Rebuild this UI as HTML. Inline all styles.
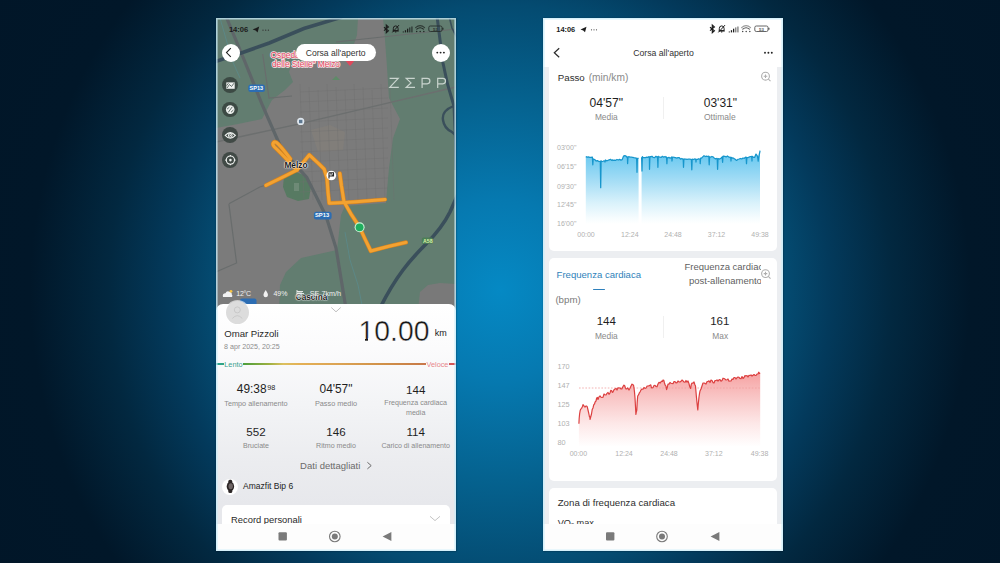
<!DOCTYPE html>
<html><head><meta charset="utf-8">
<style>
*{margin:0;padding:0;box-sizing:border-box}
html,body{width:1000px;height:563px;overflow:hidden}
body{font-family:"Liberation Sans",sans-serif;position:relative;background:#011a2e}
#bg{position:absolute;left:0;top:0;width:1000px;height:563px;
background:radial-gradient(circle at 500px 290px,#0589c4 0px,#0679b0 90px,#05628f 190px,#044b71 285px,#033a5c 330px,#022840 392px,#011729 470px,#011628 600px);}
.ph{position:absolute;top:18px;width:240px;height:533px;overflow:hidden;background:#fff;box-shadow:0 0 1.5px 0.5px rgba(0,10,20,.55)}
.in{position:absolute;width:1000px;height:563px}
#L{left:216px} #L .in{left:-216px;top:-18px}
#R{left:543px} #R .in{left:-543px;top:-18px}
.t{position:absolute;white-space:nowrap;line-height:1}
.a{position:absolute}
svg{position:absolute;left:0;top:0;overflow:visible}
.edge{position:absolute;left:0;top:0;width:240px;height:533px;box-shadow:inset 0 0 0 1.6px rgba(200,236,250,.75)}
</style></head><body>
<div id="bg"></div>
<div class="ph" id="L"><div class="in">
<svg width="1000" height="563" viewBox="0 0 1000 563">
<rect x="216" y="18" width="240" height="290" fill="#627d70"/>
<polygon points="358.0,18.0 383.0,18.0 385.0,40.0 386.7,63.0 389.0,98.0 400.0,119.0 393.0,138.0 389.0,168.0 387.0,190.0 386.0,203.0 345.0,206.0 341.0,215.0 337.0,250.0 301.0,258.0 286.0,272.0 280.0,285.0 279.0,310.0 216.0,310.0 216.0,128.0 238.0,124.0 262.0,119.0 272.0,100.0 285.0,90.0 293.0,82.0 289.0,72.0 292.0,64.0 310.0,61.0 340.0,58.0 352.0,50.0 357.0,35.0" fill="#7b7b7b"/>
<polygon points="311,130 330,125 345,132 343,150 318,152" fill="#85807a" opacity="0.6"/>
<polygon points="420.0,292.0 428.0,285.0 440.0,283.0 456.0,284.0 456.0,310.0 418.0,310.0" fill="#797979"/>
<polygon points="284.0,176.0 296.0,172.0 306.0,176.0 311.0,186.0 309.0,199.0 298.0,201.0 287.0,197.0 283.0,187.0" fill="#577a62"/>
<rect x="294" y="183" width="5" height="8" fill="#6e8a76"/>
<path d="M300,84 L304,200 M309,87 L313,200 M318,90 L322,200 M327,84 L331,200 M336,87 L340,200 M345,90 L349,200 M354,84 L358,200 M363,87 L367,200 M372,90 L376,200 M381,84 L385,200 M390,87 L394,200 M300,92 L388,88 M300,102 L388,98 M300,112 L388,108 M300,122 L388,118 M300,132 L388,128 M300,142 L388,138 M300,152 L388,148 M300,162 L388,158 M300,172 L388,168 M300,182 L388,178 M300,192 L388,188" stroke="#6e6e6e" stroke-width="0.7" fill="none" opacity="0.55"/>
<path d="M216,142 L296,124.6 L375.8,105.9 L456,87" stroke="#6c6f6f" stroke-width="1.4" fill="none"/>
<path d="M336,42 L456,29 M228.9,203.8 L259.8,187 L266,185 M228.9,203.8 L236.6,263 L216,272 M262.7,54 L269,98 L292,96" stroke="#696d6d" stroke-width="1.2" fill="none"/>
<path d="M226.7,18 L245,62 L262.7,106 L282,150 L306.8,177.5 L326,216 L336,248 L345.4,305" stroke="#5f6669" stroke-width="3.2" fill="none"/>
<path d="M220,18 L232,60 L240,78 M345,232 L350,260 L358,285 L362,305" stroke="#5a8a8c" stroke-width="0.8" fill="none"/>
<path d="M214,62 L242.6,52.5 L269.3,43 L303.9,28.5 L342,17" stroke="#3a4f5b" stroke-width="3.6" fill="none"/>
<path d="M437,16 L440,40 L443,63 L447.5,84 L451,96 L454,106 L455.5,140 L456,170" stroke="#3a4f5b" stroke-width="3" fill="none"/>
<path d="M449,16 L452,28 L458,40" stroke="#3a4f5b" stroke-width="1.6" fill="none"/>
<path d="M453.6,106 C446,109 442,114 443,120 C444,127 448,130 451.4,131.6 C453,133 455,135 457,136" stroke="#3a4f5b" stroke-width="2.4" fill="none"/>
<path d="M380,308 C386,296 394,282 403,270 C412,258 418,252 426,244 C436,234 444,224 450,212 L458,194" stroke="#3a4f5b" stroke-width="3.6" fill="none"/>
<polyline points="265.9,185.4 281.0,178.0 297.2,169.8 309.3,154.9 318.0,163.0 324.2,169.1 327.0,178.0 328.0,192.0 329.2,203.2 345.0,202.5 356.0,201.8 372.0,200.5 385.0,199.5" stroke="#d3821f" stroke-width="4.2" fill="none" stroke-linejoin="round" stroke-linecap="round"/>
<polyline points="339.8,173.4 341.5,186.0 344.0,201.8 351.0,214.0 359.5,227.0 365.0,239.0 370.8,251.0 388.0,246.5 406.0,242.4" stroke="#d3821f" stroke-width="4.2" fill="none" stroke-linejoin="round" stroke-linecap="round"/>
<path d="M297,170 C291,164 283,155 274.5,147 C271.5,144 273.5,141 276.5,142.5 C280,145 286,153 290.5,159" stroke="#d3821f" stroke-width="4.2" fill="none" stroke-linecap="round"/>
<polyline points="265.9,185.4 281.0,178.0 297.2,169.8 309.3,154.9 318.0,163.0 324.2,169.1 327.0,178.0 328.0,192.0 329.2,203.2 345.0,202.5 356.0,201.8 372.0,200.5 385.0,199.5" stroke="#f3a231" stroke-width="3.0" fill="none" stroke-linejoin="round" stroke-linecap="round"/>
<polyline points="339.8,173.4 341.5,186.0 344.0,201.8 351.0,214.0 359.5,227.0 365.0,239.0 370.8,251.0 388.0,246.5 406.0,242.4" stroke="#f3a231" stroke-width="3.0" fill="none" stroke-linejoin="round" stroke-linecap="round"/>
<path d="M297,170 C291,164 283,155 274.5,147 C271.5,144 273.5,141 276.5,142.5 C280,145 286,153 290.5,159" stroke="#f3a231" stroke-width="3.0" fill="none" stroke-linecap="round"/>
<circle cx="331.3" cy="175.5" r="4.8" fill="#fff"/>
<path d="M329,172.5 L329,178.5 M329,172.8 L333.5,172.8 L333.5,176 L329,176" stroke="#222" stroke-width="1.1" fill="none"/><rect x="330.3" y="173.2" width="1.5" height="1.3" fill="#222"/><rect x="331.8" y="174.5" width="1.5" height="1.3" fill="#222"/>
<circle cx="359.6" cy="227.3" r="5" fill="#c9f3d6"/><circle cx="359.6" cy="227.3" r="3.9" fill="#1fae5e"/>
<rect x="313.9" y="211.7" width="17.7" height="7.8" rx="2.5" fill="#2c6db3"/>
<rect x="248.3" y="84.6" width="16.7" height="7.5" rx="2.5" fill="#2c6db3"/>
<rect x="421.8" y="237.6" width="11" height="6.2" rx="1.5" fill="#4d7f56"/>
<rect x="240" y="298.5" width="16.5" height="7" rx="2" fill="#2c6db3"/>
<path d="M345,58 a5,5 0 0 1 10,0 q0,3 -5,8 q-5,-5 -5,-8z" fill="#e0485c"/>
<circle cx="300.7" cy="121.4" r="3.6" fill="#dfe7ee"/><rect x="299" y="119.8" width="3.4" height="3.4" fill="#5d7891"/>
<path d="M332,80 l4,-4 l4,4z" fill="#5f8a68"/>
</svg>
<svg width="1000" height="563"><g font-family="Liberation Sans" font-size="8.3" fill="#df4760" stroke="#fbe9ec" stroke-width="1.5" paint-order="stroke" stroke-linejoin="round"><text x="270.6" y="57.8">Ospedale</text><text x="272" y="67.4">delle Stelle&quot; Melzo</text></g></svg>
<div class="t" style="left:284.40px;top:161.29px;font-size:8.4px;color:#1a1a1a;font-weight:700;text-shadow:0 0 1.5px #fff,0 0 1.5px #fff,0 0 1px #fff">Melzo</div>
<div class="t" style="left:295.80px;top:293.56px;font-size:8.2px;color:#1a1a1a;font-weight:700;text-shadow:0 0 1.5px #fff,0 0 1.5px #fff,0 0 1px #fff">Cascina</div>
<div class="t" style="left:315.00px;top:213.29px;font-size:5.8px;color:#fff;font-weight:700;">SP13</div>
<div class="t" style="left:249.50px;top:86.26px;font-size:5.6px;color:#fff;font-weight:700;">SP13</div>
<div class="t" style="left:423.00px;top:238.60px;font-size:5.2px;color:#d9f2a6;font-weight:700;">A58</div>
<svg width="1000" height="563"><g fill="none" stroke="#c9d4ce" stroke-width="1.2"><path d="M389.6,78.4 H398.2 L389.8,87.3 H398.8"/><path d="M414.8,78.4 H406.2 L411,82.9 L406.2,87.3 H415"/><path d="M422.1,88 V78.4 H427.2 A2.7,2.7 0 0 1 427.2,83.8 H422.1"/><path d="M437.7,88 V78.4 H442.8 A2.7,2.7 0 0 1 442.8,83.8 H437.7"/></g></svg>
<div class="t" style="left:228.90px;top:25.67px;font-size:7.6px;color:#1c1c1c;font-weight:700;">14:06</div>
<svg width="1000" height="563"><path d="M252.6,29.6 L259.2,26.6 L257.6,32.4 L255.6,30.6 Z" fill="#1c1c1c"/><circle cx="263" cy="30.2" r="0.65" fill="#333"/><circle cx="265.7" cy="30.2" r="0.65" fill="#333"/><circle cx="268.4" cy="30.2" r="0.65" fill="#333"/></svg>
<svg width="1000" height="563"><path d="M384.00,27.3 L388.40,30.8 L386.30,32.7 V25.1 L388.40,27.0 L384.00,30.6" fill="none" stroke="#1c1c1c" stroke-width="1.15"/><path d="M393.30,30.6 V28.6 Q393.30,25.9 395.70,25.9 Q398.10,25.9 398.10,28.6 V30.6 Z" fill="none" stroke="#1c1c1c" stroke-width="1"/><path d="M392.60,31.0 H398.80 M399.00,25.1 L392.40,32.4" fill="none" stroke="#1c1c1c" stroke-width="1"/><circle cx="395.70" cy="31.9" r="0.7" fill="#1c1c1c"/><rect x="402.70" y="31.50" width="1.25" height="0.9" fill="#1c1c1c"/><rect x="404.85" y="30.20" width="1.25" height="2.2" fill="#1c1c1c"/><rect x="407.00" y="28.70" width="1.25" height="3.7" fill="#1c1c1c"/><rect x="409.15" y="27.40" width="1.25" height="5.0" fill="#2a332f"/><rect x="411.30" y="26.50" width="1.25" height="5.9" fill="#2a332f"/><g fill="none" stroke-linecap="round"><path d="M415.60,27.6 Q420.10,23.6 424.60,27.6" stroke="#2f3a35" stroke-width="1.1"/><path d="M416.80,29.2 Q420.10,26.4 423.40,29.2" stroke="#1f2622" stroke-width="1.1"/></g><circle cx="416.70" cy="31.6" r="0.75" fill="#1f2622"/><circle cx="420.20" cy="31.6" r="0.75" fill="#1f2622"/><circle cx="423.80" cy="31.6" r="0.75" fill="#1f2622"/><rect x="428.80" y="26.0" width="13.2" height="5.5" rx="1.5" fill="none" stroke="#27302c" stroke-width="0.9"/><rect x="442.20" y="27.8" width="1.3" height="1.9" fill="#27302c"/><text x="435.40" y="30.6" font-size="4.3" font-weight="700" text-anchor="middle" fill="#27302c" font-family="Liberation Sans">53</text></svg>
<div class="a" style="left:221.7px;top:43.7px;width:18px;height:18px;border-radius:50%;background:#fff"></div><svg width="1000" height="563"><path d="M230.8,48.2 L226.5,52.6 L230.8,56.9" stroke="#222" stroke-width="1.1" fill="none"/></svg>
<div class="a" style="left:431.6px;top:43.6px;width:18px;height:18px;border-radius:50%;background:#fff"></div><svg width="1000" height="563"><circle cx="437.3" cy="52.6" r="0.95" fill="#222"/><circle cx="440.6" cy="52.6" r="0.95" fill="#222"/><circle cx="443.9" cy="52.6" r="0.95" fill="#222"/></svg>
<div class="a" style="left:296px;top:43.8px;width:79.5px;height:17.6px;border-radius:9px;background:#fff"></div><div class="t" style="left:305.70px;top:48.92px;font-size:8.6px;color:#333;font-weight:400;">Corsa all&#39;aperto</div>
<div class="a" style="left:222.4px;top:77.4px;width:15.8px;height:15.8px;border-radius:50%;background:rgba(52,64,58,.82)"></div><div class="a" style="left:222.4px;top:101.7px;width:15.8px;height:15.8px;border-radius:50%;background:rgba(52,64,58,.82)"></div><div class="a" style="left:222.4px;top:127.4px;width:15.8px;height:15.8px;border-radius:50%;background:rgba(52,64,58,.82)"></div><div class="a" style="left:222.4px;top:152.2px;width:15.8px;height:15.8px;border-radius:50%;background:rgba(52,64,58,.82)"></div><svg width="1000" height="563"><rect x="226.3" y="82.4" width="8.4" height="6.4" fill="#eef1ef"/><path d="M227,88 L229.5,84.5 L231.5,86.5 L234,83.2 M228.5,83.2 L226.6,85.6" stroke="#55625c" stroke-width="0.9" fill="none"/><circle cx="230.2" cy="109.6" r="4.3" fill="#eef1ef"/><path d="M228.2,112.4 L232.3,106.8 M227,109.2 L229.4,107.2 M231,112.2 L233.4,110" stroke="#55625c" stroke-width="0.9" fill="none"/><g fill="none" stroke="#eef1ef" stroke-width="1.1"><path d="M225.2,135.4 Q230.3,129.8 235.4,135.4 Q230.3,141 225.2,135.4 Z"/><circle cx="230.3" cy="135.4" r="1.8"/></g><circle cx="230.3" cy="135.4" r="0.7" fill="#eef1ef"/><g fill="none" stroke="#eef1ef" stroke-width="1.1"><circle cx="230.4" cy="160.1" r="4.1"/><path d="M230.4,155 V156.3 M230.4,163.9 V165.2 M225.3,160.1 H226.6 M234.2,160.1 H235.5"/></g><circle cx="230.4" cy="160.1" r="1.3" fill="#eef1ef"/></svg>
<svg width="1000" height="563"><path d="M223,297 Q222,293.5 225.5,293.3 Q226.5,290.5 229.5,291.7 Q232,292 231.8,294.5 Q233,295.5 232,297 Z" fill="#f2f2f2"/><circle cx="231" cy="291.3" r="1.4" fill="#f6c444"/><path d="M265.7,290 Q263.3,293.5 263.4,295 Q263.6,297.2 265.7,297.2 Q267.8,297.2 268,295 Q268.1,293.5 265.7,290Z" fill="#f2f2f2"/><path d="M297,290 L297,297 M299,291 L299,297 M301,292 L301,297 M297,291.5 L303,291.5 M297,293.5 L304,293.5" stroke="#f0f0f0" stroke-width="0.9"/></svg>
<div class="t" style="left:236.30px;top:289.67px;font-size:7.0px;color:#f0f0f0;font-weight:400;letter-spacing:-0.3px">12°C</div>
<div class="t" style="left:273.40px;top:289.67px;font-size:7.0px;color:#f0f0f0;font-weight:400;">49%</div>
<div class="t" style="left:309.80px;top:289.51px;font-size:7.2px;color:#f0f0f0;font-weight:400;">SE 7km/h</div>
<div class="a" style="left:216px;top:304px;width:240px;height:250px;border-radius:7px 7px 0 0;background:linear-gradient(180deg,#ffffff 0px,#fbfbfc 45px,#f3f4f6 100px,#ebecef 160px,#e7e8ec 200px)"></div><div class="a" style="left:225.5px;top:300.6px;width:23.6px;height:23.6px;border-radius:50%;background:#dcdcdc;box-shadow:0 0 0 1px rgba(255,255,255,.6)"></div><svg width="1000" height="563"><g fill="none" stroke="#c6c6c6" stroke-width="0.9"><circle cx="237.3" cy="309.9" r="3"/><path d="M232.3,318.5 Q237.3,312.8 242.3,318.5"/></g></svg>
<svg width="1000" height="563"><path d="M331.3,307.5 L336,311.8 L340.7,307.5" stroke="#bfbfbf" stroke-width="1" fill="none"/></svg>
<div class="t" style="left:224.20px;top:328.67px;font-size:9.6px;color:#2a2a2a;font-weight:400;">Omar Pizzoli</div>
<div class="t" style="left:224.10px;top:343.59px;font-size:7.1px;color:#8c8c8c;font-weight:400;">8 apr 2025, 20:25</div>
<div class="t" style="left:358.60px;top:316.54px;font-size:28.3px;color:#151515;font-weight:400;transform:scaleY(1.07);transform-origin:0 85%;-webkit-text-stroke:0.4px #fdfdfd;">10.00</div>
<div class="t" style="left:434.80px;top:329.18px;font-size:9.0px;color:#1a1a1a;font-weight:400;">km</div>
<div class="a" style="left:360.2px;top:337.9px;width:5.3px;height:3.6px;background:#fcfcfd"></div><div class="a" style="left:368.1px;top:337.9px;width:5.9px;height:3.6px;background:#fcfcfd"></div><div class="a" style="left:216px;top:363.4px;width:240px;height:1.6px;background:linear-gradient(90deg,#2aa390 0%,#30a585 3%,#4f9f3c 12%,#9cb040 22%,#dcc060 28%,#e4b055 35%,#dca454 50%,#d09048 70%,#c87c48 85%,#cc6a55 92%,#d85258 100%)"></div><div class="t" style="left:223.80px;top:361.42px;font-size:7.3px;color:#3aa08f;font-weight:400;background:#f9fafa;padding:0 0.5px">Lento</div>
<div class="t" style="left:426.00px;top:361.42px;font-size:7.3px;color:#e8868c;font-weight:400;background:#f9fafa;padding:0 0.5px">Veloce</div>
<div class="t" style="left:236.80px;top:383.73px;font-size:11.9px;color:#1e1e1e;font-weight:400;">49:38</div>
<div class="t" style="left:267.30px;top:384.12px;font-size:7.3px;color:#1e1e1e;font-weight:400;">98</div>
<div class="t" style="left:186.00px;width:300px;text-align:center;top:383.73px;font-size:11.9px;color:#1e1e1e;font-weight:400;">04&#39;57&quot;</div>
<div class="t" style="left:265.70px;width:300px;text-align:center;top:383.98px;font-size:11.6px;color:#1e1e1e;font-weight:400;">144</div>
<div class="t" style="left:106.00px;width:300px;text-align:center;top:400.26px;font-size:7.25px;color:#8a8a8a;font-weight:400;">Tempo allenamento</div>
<div class="t" style="left:186.00px;width:300px;text-align:center;top:400.22px;font-size:7.3px;color:#8a8a8a;font-weight:400;">Passo medio</div>
<div class="t" style="left:265.70px;width:300px;text-align:center;top:400.39px;font-size:7.1px;color:#8a8a8a;font-weight:400;">Frequenza cardiaca</div>
<div class="t" style="left:265.70px;width:300px;text-align:center;top:409.59px;font-size:7.1px;color:#8a8a8a;font-weight:400;">media</div>
<div class="t" style="left:106.00px;width:300px;text-align:center;top:426.18px;font-size:11.6px;color:#1e1e1e;font-weight:400;">552</div>
<div class="t" style="left:186.00px;width:300px;text-align:center;top:426.18px;font-size:11.6px;color:#1e1e1e;font-weight:400;">146</div>
<div class="t" style="left:265.70px;width:300px;text-align:center;top:426.18px;font-size:11.6px;color:#1e1e1e;font-weight:400;">114</div>
<div class="t" style="left:106.00px;width:300px;text-align:center;top:442.79px;font-size:7.1px;color:#8a8a8a;font-weight:400;">Bruciate</div>
<div class="t" style="left:186.00px;width:300px;text-align:center;top:442.79px;font-size:7.1px;color:#8a8a8a;font-weight:400;">Ritmo medio</div>
<div class="t" style="left:265.70px;width:300px;text-align:center;top:442.79px;font-size:7.1px;color:#8a8a8a;font-weight:400;">Carico di allenamento</div>
<div class="t" style="left:300.10px;top:460.56px;font-size:9.5px;color:#6a6a6a;font-weight:400;">Dati dettagliati</div>
<svg width="1000" height="563"><path d="M367.4,462.3 L371.2,465.6 L367.4,468.9" stroke="#6a6a6a" stroke-width="1" fill="none"/></svg>
<div class="a" style="left:222.2px;top:478.7px;width:16px;height:16px;border-radius:50%;background:#fff"></div><svg width="1000" height="563"><rect x="228.3" y="479.8" width="4" height="13.2" rx="1.6" fill="#2e2828"/><ellipse cx="230.4" cy="486.5" rx="3.7" ry="4.6" fill="#2b2525"/><ellipse cx="230.7" cy="486.3" rx="2.2" ry="3" fill="#6e6565"/></svg>
<div class="t" style="left:243.10px;top:482.30px;font-size:8.5px;color:#222;font-weight:400;">Amazfit Bip 6</div>
<div class="a" style="left:221.8px;top:505.2px;width:228.4px;height:30px;border-radius:5px;background:#fff"></div><div class="t" style="left:231.00px;top:514.64px;font-size:9.4px;color:#2a2a2a;font-weight:400;">Record personali</div>
<svg width="1000" height="563"><path d="M430,516.3 L435,520.6 L440,516.3" stroke="#c4c4c4" stroke-width="1" fill="none"/></svg>
<div class="a" style="left:0;top:523.8px;width:1000px;height:40px;background:#fdfdfd"></div><svg width="1000" height="563"><rect x="278.5" y="532.2" width="8.4" height="8.4" rx="1" fill="#7a7a7a"/><circle cx="334.8" cy="536.5" r="5.3" fill="none" stroke="#7a7a7a" stroke-width="1.1"/><circle cx="334.8" cy="536.5" r="3" fill="#7a7a7a"/><path d="M391.4,532 L391.4,541 L382.6,536.5 Z" fill="#7a7a7a"/></svg>
</div><div class="edge"></div></div>
<div class="ph" id="R"><div class="in">
<div class="a" style="left:543px;top:67px;width:240px;height:500px;background:#eceef1"></div><div class="t" style="left:556.30px;top:25.54px;font-size:7.4px;color:#1c1c1c;font-weight:700;">14:06</div>
<svg width="1000" height="563"><path d="M580.5,29.5 L586.5,26.8 L585,32.3 L583.2,30.4 Z" fill="#1c1c1c"/><circle cx="591.5" cy="29.8" r="0.6" fill="#444"/><circle cx="594" cy="29.8" r="0.6" fill="#444"/><circle cx="596.5" cy="29.8" r="0.6" fill="#444"/></svg>
<svg width="1000" height="563"><path d="M710.00,27.3 L714.40,30.8 L712.30,32.7 V25.1 L714.40,27.0 L710.00,30.6" fill="none" stroke="#1c1c1c" stroke-width="1.15"/><path d="M719.30,30.6 V28.6 Q719.30,25.9 721.70,25.9 Q724.10,25.9 724.10,28.6 V30.6 Z" fill="none" stroke="#1c1c1c" stroke-width="1"/><path d="M718.60,31.0 H724.80 M725.00,25.1 L718.40,32.4" fill="none" stroke="#1c1c1c" stroke-width="1"/><circle cx="721.70" cy="31.9" r="0.7" fill="#1c1c1c"/><rect x="728.70" y="31.50" width="1.25" height="0.9" fill="#1c1c1c"/><rect x="730.85" y="30.20" width="1.25" height="2.2" fill="#1c1c1c"/><rect x="733.00" y="28.70" width="1.25" height="3.7" fill="#1c1c1c"/><rect x="735.15" y="27.40" width="1.25" height="5.0" fill="#777"/><rect x="737.30" y="26.50" width="1.25" height="5.9" fill="#777"/><g fill="none" stroke-linecap="round"><path d="M741.60,27.6 Q746.10,23.6 750.60,27.6" stroke="#9a9a9a" stroke-width="1.1"/><path d="M742.80,29.2 Q746.10,26.4 749.40,29.2" stroke="#555" stroke-width="1.1"/></g><circle cx="742.70" cy="31.6" r="0.75" fill="#444"/><circle cx="746.20" cy="31.6" r="0.75" fill="#444"/><circle cx="749.80" cy="31.6" r="0.75" fill="#444"/><rect x="754.80" y="26.0" width="13.2" height="5.5" rx="1.5" fill="none" stroke="#555" stroke-width="0.9"/><rect x="768.20" y="27.8" width="1.3" height="1.9" fill="#555"/><text x="761.40" y="30.6" font-size="4.3" font-weight="700" text-anchor="middle" fill="#555" font-family="Liberation Sans">53</text></svg>
<svg width="1000" height="563"><path d="M559.2,48.3 L554.3,52.8 L559.2,57.3" stroke="#2a2a2a" stroke-width="1.2" fill="none"/><circle cx="765" cy="52.8" r="0.95" fill="#222"/><circle cx="768.4" cy="52.8" r="0.95" fill="#222"/><circle cx="771.8" cy="52.8" r="0.95" fill="#222"/></svg>
<div class="t" style="left:633.20px;top:48.84px;font-size:8.7px;color:#333;font-weight:400;">Corsa all&#39;aperto</div>
<div class="a" style="left:549px;top:67px;width:227.6px;height:183.5px;border-radius:0 0 5px 5px;background:#fff"></div><div class="t" style="left:557.80px;top:73.49px;font-size:9.7px;color:#2e2e2e;font-weight:400;">Passo</div>
<div class="t" style="left:588.70px;top:73.37px;font-size:10.2px;color:#8a8a8a;font-weight:400;">(min/km)</div>
<svg width="1000" height="563"><g fill="none" stroke="#adadad" stroke-width="1.05"><circle cx="765.5" cy="76.2" r="3.9"/><path d="M763.7,76.2 L767.3,76.2 M765.5,74.4 L765.5,78.0 M768.3,79.0 L770.5,81.2"/></g></svg>
<div class="t" style="left:456.30px;width:300px;text-align:center;top:97.36px;font-size:12.1px;color:#1e1e1e;font-weight:400;">04&#39;57&quot;</div>
<div class="t" style="left:456.30px;width:300px;text-align:center;top:112.59px;font-size:8.4px;color:#8a8a8a;font-weight:400;">Media</div>
<div class="t" style="left:570.40px;width:300px;text-align:center;top:97.44px;font-size:12.0px;color:#1e1e1e;font-weight:400;">03&#39;31&quot;</div>
<div class="t" style="left:569.80px;width:300px;text-align:center;top:112.50px;font-size:8.5px;color:#8a8a8a;font-weight:400;">Ottimale</div>
<div class="a" style="left:663px;top:97px;width:0.8px;height:22px;background:#f0f0f0"></div><div class="t" style="left:557.00px;top:144.47px;font-size:7.0px;color:#b0b0b0;font-weight:400;">03&#39;00&quot;</div>
<div class="t" style="left:557.00px;top:163.17px;font-size:7.0px;color:#b0b0b0;font-weight:400;">06&#39;15&quot;</div>
<div class="t" style="left:557.00px;top:182.57px;font-size:7.0px;color:#b0b0b0;font-weight:400;">09&#39;30&quot;</div>
<div class="t" style="left:557.00px;top:201.37px;font-size:7.0px;color:#b0b0b0;font-weight:400;">12&#39;45&quot;</div>
<div class="t" style="left:557.00px;top:220.27px;font-size:7.0px;color:#b0b0b0;font-weight:400;">16&#39;00&quot;</div>
<div class="t" style="left:436.00px;width:300px;text-align:center;top:230.67px;font-size:7.0px;color:#b0b0b0;font-weight:400;">00:00</div>
<div class="t" style="left:479.80px;width:300px;text-align:center;top:230.67px;font-size:7.0px;color:#b0b0b0;font-weight:400;">12:24</div>
<div class="t" style="left:523.00px;width:300px;text-align:center;top:230.67px;font-size:7.0px;color:#b0b0b0;font-weight:400;">24:48</div>
<div class="t" style="left:566.50px;width:300px;text-align:center;top:230.67px;font-size:7.0px;color:#b0b0b0;font-weight:400;">37:12</div>
<div class="t" style="left:610.00px;width:300px;text-align:center;top:230.67px;font-size:7.0px;color:#b0b0b0;font-weight:400;">49:38</div>
<svg width="1000" height="563"><defs><linearGradient id="gp" x1="0" y1="150" x2="0" y2="224" gradientUnits="userSpaceOnUse"><stop offset="0" stop-color="#5fc5ef"/><stop offset="0.4" stop-color="#a2dcf5"/><stop offset="0.72" stop-color="#daf2fb"/><stop offset="0.92" stop-color="#f6fcfe"/><stop offset="1" stop-color="#ffffff"/></linearGradient><linearGradient id="gh" x1="0" y1="372" x2="0" y2="446" gradientUnits="userSpaceOnUse"><stop offset="0" stop-color="#f6a2a2"/><stop offset="0.35" stop-color="#f9c6c6"/><stop offset="0.7" stop-color="#fde8e8"/><stop offset="1" stop-color="#fffefe"/></linearGradient></defs><polygon points="585.8,156.6 587.1,157.1 588.4,156.9 589.7,157.3 591.0,157.4 592.3,157.1 592.4,157.1 592.8,164.8 593.2,159.3 593.6,159.0 594.9,159.7 596.2,161.0 597.5,160.6 598.8,161.5 600.1,161.3 600.3,161.5 600.7,187.7 601.1,160.7 601.4,161.3 602.7,161.5 604.0,160.8 604.6,161.0 605.0,162.0 605.3,160.9 605.4,160.0 606.6,160.8 607.9,160.4 609.2,159.8 610.5,159.3 611.8,160.4 612.6,159.8 613.0,160.5 613.1,160.2 613.4,160.4 614.4,160.1 615.7,160.3 617.0,159.5 618.3,160.0 619.6,159.4 620.9,160.1 622.2,159.6 623.5,156.1 624.8,155.6 626.1,156.1 627.2,157.5 627.4,156.8 627.6,163.6 628.0,157.1 628.7,156.7 630.0,157.2 631.3,157.2 632.6,157.3 633.9,157.7 635.2,157.9 636.5,158.5 636.6,158.2 637.0,172.3 637.4,158.5 637.8,158.3 638.6,158.4 638.6,224.0 585.8,224.0" fill="url(#gp)"/><polygon points="641.6,157.3 642.0,171.0 642.4,156.6 642.9,157.6 644.2,157.7 645.5,157.6 646.8,157.1 648.1,157.3 649.1,156.6 649.4,157.4 649.5,169.3 649.9,157.1 650.7,156.6 652.0,156.3 653.3,157.4 654.6,157.6 655.9,156.3 657.2,157.3 657.5,156.7 657.9,167.3 658.3,156.3 658.5,156.5 659.8,157.2 661.1,157.4 662.4,156.3 663.7,157.2 665.0,156.5 666.3,157.5 666.5,157.0 666.9,163.6 667.3,157.8 667.6,158.0 668.9,157.4 670.2,158.2 671.5,157.3 671.6,157.0 672.0,161.0 672.4,157.8 672.8,157.0 674.1,157.3 675.4,157.7 676.7,158.2 678.0,157.7 679.3,157.7 680.6,159.1 681.9,158.5 683.1,159.5 683.2,159.4 683.5,167.3 683.9,158.8 684.5,159.0 685.8,159.1 687.1,159.3 688.4,159.2 689.7,159.2 691.0,159.3 691.4,159.8 691.8,169.8 692.2,159.2 692.3,159.1 693.6,159.5 694.9,158.9 695.6,159.0 696.0,162.0 696.2,160.0 696.4,159.3 697.5,159.4 698.8,158.7 699.8,159.3 700.1,159.4 700.2,163.6 700.6,158.1 701.4,158.2 702.7,156.9 704.0,155.7 705.3,156.5 706.6,156.2 707.9,156.5 708.8,156.2 709.2,164.8 709.6,156.9 710.5,157.2 711.8,156.5 713.1,156.9 714.4,158.2 715.7,158.9 717.0,158.3 717.2,158.6 717.6,169.3 718.0,159.0 718.3,158.7 719.6,159.1 720.9,158.2 722.2,156.9 722.6,162.3 723.0,156.4 723.5,156.1 724.8,156.3 726.1,156.9 727.4,156.0 728.7,156.9 730.0,157.5 730.6,157.2 731.0,161.0 731.3,157.4 731.4,158.2 732.6,157.9 733.9,158.4 735.2,159.3 736.5,160.4 737.8,159.4 739.1,159.0 740.4,158.5 741.7,158.9 743.0,158.0 744.3,158.3 745.6,157.1 746.1,157.2 746.5,163.6 746.9,157.5 748.2,157.5 749.5,156.9 750.8,156.5 751.6,156.4 752.0,161.0 752.1,156.9 752.4,156.4 753.4,157.3 754.7,157.3 756.0,154.1 757.3,155.8 757.8,158.3 758.2,161.1 758.6,157.5 759.9,151.7 760.0,150.6 760.0,224.0 641.6,224.0" fill="url(#gp)"/><polyline points="585.8,156.6 587.1,157.1 588.4,156.9 589.7,157.3 591.0,157.4 592.3,157.1 592.4,157.1 592.8,164.8 593.2,159.3 593.6,159.0 594.9,159.7 596.2,161.0 597.5,160.6 598.8,161.5 600.1,161.3 600.3,161.5 600.7,187.7 601.1,160.7 601.4,161.3 602.7,161.5 604.0,160.8 604.6,161.0 605.0,162.0 605.3,160.9 605.4,160.0 606.6,160.8 607.9,160.4 609.2,159.8 610.5,159.3 611.8,160.4 612.6,159.8 613.0,160.5 613.1,160.2 613.4,160.4 614.4,160.1 615.7,160.3 617.0,159.5 618.3,160.0 619.6,159.4 620.9,160.1 622.2,159.6 623.5,156.1 624.8,155.6 626.1,156.1 627.2,157.5 627.4,156.8 627.6,163.6 628.0,157.1 628.7,156.7 630.0,157.2 631.3,157.2 632.6,157.3 633.9,157.7 635.2,157.9 636.5,158.5 636.6,158.2 637.0,172.3 637.4,158.5 637.8,158.3 638.6,158.4" stroke="#1796cc" stroke-width="1.25" fill="none" stroke-linejoin="round"/><polyline points="641.6,157.3 642.0,171.0 642.4,156.6 642.9,157.6 644.2,157.7 645.5,157.6 646.8,157.1 648.1,157.3 649.1,156.6 649.4,157.4 649.5,169.3 649.9,157.1 650.7,156.6 652.0,156.3 653.3,157.4 654.6,157.6 655.9,156.3 657.2,157.3 657.5,156.7 657.9,167.3 658.3,156.3 658.5,156.5 659.8,157.2 661.1,157.4 662.4,156.3 663.7,157.2 665.0,156.5 666.3,157.5 666.5,157.0 666.9,163.6 667.3,157.8 667.6,158.0 668.9,157.4 670.2,158.2 671.5,157.3 671.6,157.0 672.0,161.0 672.4,157.8 672.8,157.0 674.1,157.3 675.4,157.7 676.7,158.2 678.0,157.7 679.3,157.7 680.6,159.1 681.9,158.5 683.1,159.5 683.2,159.4 683.5,167.3 683.9,158.8 684.5,159.0 685.8,159.1 687.1,159.3 688.4,159.2 689.7,159.2 691.0,159.3 691.4,159.8 691.8,169.8 692.2,159.2 692.3,159.1 693.6,159.5 694.9,158.9 695.6,159.0 696.0,162.0 696.2,160.0 696.4,159.3 697.5,159.4 698.8,158.7 699.8,159.3 700.1,159.4 700.2,163.6 700.6,158.1 701.4,158.2 702.7,156.9 704.0,155.7 705.3,156.5 706.6,156.2 707.9,156.5 708.8,156.2 709.2,164.8 709.6,156.9 710.5,157.2 711.8,156.5 713.1,156.9 714.4,158.2 715.7,158.9 717.0,158.3 717.2,158.6 717.6,169.3 718.0,159.0 718.3,158.7 719.6,159.1 720.9,158.2 722.2,156.9 722.6,162.3 723.0,156.4 723.5,156.1 724.8,156.3 726.1,156.9 727.4,156.0 728.7,156.9 730.0,157.5 730.6,157.2 731.0,161.0 731.3,157.4 731.4,158.2 732.6,157.9 733.9,158.4 735.2,159.3 736.5,160.4 737.8,159.4 739.1,159.0 740.4,158.5 741.7,158.9 743.0,158.0 744.3,158.3 745.6,157.1 746.1,157.2 746.5,163.6 746.9,157.5 748.2,157.5 749.5,156.9 750.8,156.5 751.6,156.4 752.0,161.0 752.1,156.9 752.4,156.4 753.4,157.3 754.7,157.3 756.0,154.1 757.3,155.8 757.8,158.3 758.2,161.1 758.6,157.5 759.9,151.7 760.0,150.6" stroke="#1796cc" stroke-width="1.25" fill="none" stroke-linejoin="round"/></svg>
<div class="a" style="left:543px;top:250.5px;width:240px;height:7.5px;background:#eceef1"></div><div class="a" style="left:549px;top:258px;width:227.6px;height:222.5px;border-radius:5px;background:#fff"></div><div class="t" style="left:556.60px;top:269.52px;font-size:9.55px;color:#2f82ba;font-weight:400;">Frequenza cardiaca</div>
<div class="a" style="left:593.2px;top:288.6px;width:11.8px;height:1.4px;background:#2e80bc;border-radius:1px"></div><div class="a" style="left:670px;top:258px;width:91px;height:30px;overflow:hidden"><div class="t" style="left:14.5px;top:4.46px;font-size:9.5px;color:#5f5f5f">Frequenza cardiaca</div><div class="t" style="left:19px;top:18.26px;font-size:9.5px;color:#5f5f5f">post-allenamento</div></div>
<svg width="1000" height="563"><g fill="none" stroke="#adadad" stroke-width="1.05"><circle cx="765.5" cy="273.6" r="3.9"/><path d="M763.7,273.6 L767.3,273.6 M765.5,271.8 L765.5,275.40000000000003 M768.3,276.40000000000003 L770.5,278.6"/></g></svg>
<div class="t" style="left:555.40px;top:295.19px;font-size:9.7px;color:#7a7a7a;font-weight:400;">(bpm)</div>
<div class="t" style="left:456.30px;width:300px;text-align:center;top:316.47px;font-size:11.5px;color:#1e1e1e;font-weight:400;">144</div>
<div class="t" style="left:456.30px;width:300px;text-align:center;top:331.69px;font-size:8.4px;color:#8a8a8a;font-weight:400;">Media</div>
<div class="t" style="left:569.80px;width:300px;text-align:center;top:316.47px;font-size:11.5px;color:#1e1e1e;font-weight:400;">161</div>
<div class="t" style="left:570.20px;width:300px;text-align:center;top:331.69px;font-size:8.4px;color:#8a8a8a;font-weight:400;">Max</div>
<div class="a" style="left:663px;top:316px;width:0.8px;height:22px;background:#f0f0f0"></div><div class="t" style="left:557.50px;top:362.72px;font-size:7.3px;color:#b0b0b0;font-weight:400;">170</div>
<div class="t" style="left:557.50px;top:381.82px;font-size:7.3px;color:#b0b0b0;font-weight:400;">147</div>
<div class="t" style="left:557.50px;top:401.02px;font-size:7.3px;color:#b0b0b0;font-weight:400;">125</div>
<div class="t" style="left:557.50px;top:419.62px;font-size:7.3px;color:#b0b0b0;font-weight:400;">103</div>
<div class="t" style="left:557.50px;top:439.32px;font-size:7.3px;color:#b0b0b0;font-weight:400;">80</div>
<div class="t" style="left:428.40px;width:300px;text-align:center;top:449.87px;font-size:7.0px;color:#b0b0b0;font-weight:400;">00:00</div>
<div class="t" style="left:474.00px;width:300px;text-align:center;top:449.87px;font-size:7.0px;color:#b0b0b0;font-weight:400;">12:24</div>
<div class="t" style="left:519.00px;width:300px;text-align:center;top:449.87px;font-size:7.0px;color:#b0b0b0;font-weight:400;">24:48</div>
<div class="t" style="left:563.80px;width:300px;text-align:center;top:449.87px;font-size:7.0px;color:#b0b0b0;font-weight:400;">37:12</div>
<div class="t" style="left:609.60px;width:300px;text-align:center;top:449.87px;font-size:7.0px;color:#b0b0b0;font-weight:400;">49:38</div>
<svg width="1000" height="563"><polygon points="578.9,423.7 579.2,418.3 579.6,414.0 580.2,410.4 580.8,409.1 581.6,408.3 582.5,406.5 583.0,404.6 583.6,405.4 584.3,406.3 585.0,407.0 585.8,406.1 586.5,406.0 587.2,406.6 588.0,410.0 588.8,413.5 589.5,417.0 589.8,416.7 590.1,419.4 590.8,416.5 591.5,414.0 592.2,409.6 593.0,408.0 593.8,404.7 594.5,404.0 595.2,401.8 596.0,401.0 596.7,398.0 597.4,397.5 598.0,399.5 599.0,396.9 600.0,396.0 601.0,397.2 602.0,397.5 603.0,397.2 604.0,394.0 605.0,394.7 606.0,395.0 607.0,393.4 608.0,392.5 609.0,394.3 610.0,393.0 610.8,390.3 611.6,390.5 612.3,392.4 613.0,392.0 614.0,389.8 615.0,389.0 616.0,388.4 617.0,390.0 618.0,387.8 619.0,388.0 620.0,387.9 621.0,389.0 622.0,388.8 623.0,386.5 623.9,385.1 624.7,385.8 625.4,387.7 626.0,389.0 626.8,388.9 627.5,388.0 628.2,388.6 629.0,390.0 630.0,388.2 631.0,386.0 632.0,384.1 633.0,384.9 633.5,385.0 634.0,388.0 634.5,392.1 635.0,398.0 635.5,406.8 635.9,414.4 636.3,412.0 636.8,410.0 637.2,402.4 637.7,396.0 638.5,394.9 639.2,393.2 640.0,392.0 641.0,389.9 642.0,389.0 643.0,389.2 644.0,387.5 645.0,388.4 646.0,388.0 647.0,386.2 648.0,386.0 648.9,385.9 649.9,385.3 650.8,384.9 651.4,387.7 652.0,388.0 653.0,387.5 654.0,385.5 655.0,385.3 656.0,386.5 657.0,386.8 658.0,384.0 659.0,382.3 660.0,383.0 661.0,381.8 662.0,381.1 662.5,381.4 663.0,380.0 663.8,380.4 664.5,383.0 665.2,385.2 665.9,385.9 666.6,389.6 667.3,387.3 668.0,384.0 669.0,384.1 670.0,382.5 671.0,383.2 672.0,383.5 673.0,383.7 674.0,381.5 675.0,381.7 676.0,383.0 677.0,382.6 678.0,381.0 679.0,381.8 680.0,382.0 681.0,381.3 682.0,380.0 683.0,380.9 684.0,382.0 685.0,382.3 686.0,380.5 687.0,382.2 688.0,381.0 688.9,383.4 689.7,386.5 690.6,388.4 691.3,384.3 692.0,383.0 693.0,383.1 694.0,382.0 694.8,384.5 695.5,386.0 696.3,395.6 697.0,403.0 697.8,410.0 698.4,402.8 699.0,397.0 699.5,393.6 700.0,391.0 701.0,389.0 702.0,386.0 703.0,383.0 704.0,383.0 705.0,383.4 706.0,384.0 707.0,381.7 708.0,381.5 709.0,380.8 710.0,382.5 711.0,380.1 712.0,380.5 713.0,382.6 714.0,383.0 715.0,380.6 716.0,380.5 717.0,379.9 718.0,381.0 719.0,379.9 720.0,379.5 721.0,381.2 722.0,380.5 723.0,378.2 724.0,378.5 725.0,379.1 726.0,380.0 727.0,379.7 728.0,379.0 729.0,381.2 730.0,381.0 731.0,381.0 732.0,379.0 733.0,379.4 734.0,377.5 735.0,377.5 736.0,379.0 737.0,377.7 738.0,377.0 739.0,377.3 740.0,378.5 741.0,378.7 742.0,376.5 743.0,378.5 744.0,377.5 745.0,375.6 746.0,376.0 747.0,375.5 748.0,377.0 749.0,375.4 750.0,375.5 751.0,374.9 752.0,376.0 753.0,375.2 754.0,374.5 755.0,375.3 756.0,375.5 757.0,374.0 758.0,374.0 758.7,372.2 759.5,373.3 760.2,373.3 760.2,446.0 578.9,446.0" fill="url(#gh)"/><path d="M579,388 L760,388" stroke="#f0a0a0" stroke-width="0.8" stroke-dasharray="1.6,1.6"/><polyline points="578.9,423.7 579.2,418.3 579.6,414.0 580.2,410.4 580.8,409.1 581.6,408.3 582.5,406.5 583.0,404.6 583.6,405.4 584.3,406.3 585.0,407.0 585.8,406.1 586.5,406.0 587.2,406.6 588.0,410.0 588.8,413.5 589.5,417.0 589.8,416.7 590.1,419.4 590.8,416.5 591.5,414.0 592.2,409.6 593.0,408.0 593.8,404.7 594.5,404.0 595.2,401.8 596.0,401.0 596.7,398.0 597.4,397.5 598.0,399.5 599.0,396.9 600.0,396.0 601.0,397.2 602.0,397.5 603.0,397.2 604.0,394.0 605.0,394.7 606.0,395.0 607.0,393.4 608.0,392.5 609.0,394.3 610.0,393.0 610.8,390.3 611.6,390.5 612.3,392.4 613.0,392.0 614.0,389.8 615.0,389.0 616.0,388.4 617.0,390.0 618.0,387.8 619.0,388.0 620.0,387.9 621.0,389.0 622.0,388.8 623.0,386.5 623.9,385.1 624.7,385.8 625.4,387.7 626.0,389.0 626.8,388.9 627.5,388.0 628.2,388.6 629.0,390.0 630.0,388.2 631.0,386.0 632.0,384.1 633.0,384.9 633.5,385.0 634.0,388.0 634.5,392.1 635.0,398.0 635.5,406.8 635.9,414.4 636.3,412.0 636.8,410.0 637.2,402.4 637.7,396.0 638.5,394.9 639.2,393.2 640.0,392.0 641.0,389.9 642.0,389.0 643.0,389.2 644.0,387.5 645.0,388.4 646.0,388.0 647.0,386.2 648.0,386.0 648.9,385.9 649.9,385.3 650.8,384.9 651.4,387.7 652.0,388.0 653.0,387.5 654.0,385.5 655.0,385.3 656.0,386.5 657.0,386.8 658.0,384.0 659.0,382.3 660.0,383.0 661.0,381.8 662.0,381.1 662.5,381.4 663.0,380.0 663.8,380.4 664.5,383.0 665.2,385.2 665.9,385.9 666.6,389.6 667.3,387.3 668.0,384.0 669.0,384.1 670.0,382.5 671.0,383.2 672.0,383.5 673.0,383.7 674.0,381.5 675.0,381.7 676.0,383.0 677.0,382.6 678.0,381.0 679.0,381.8 680.0,382.0 681.0,381.3 682.0,380.0 683.0,380.9 684.0,382.0 685.0,382.3 686.0,380.5 687.0,382.2 688.0,381.0 688.9,383.4 689.7,386.5 690.6,388.4 691.3,384.3 692.0,383.0 693.0,383.1 694.0,382.0 694.8,384.5 695.5,386.0 696.3,395.6 697.0,403.0 697.8,410.0 698.4,402.8 699.0,397.0 699.5,393.6 700.0,391.0 701.0,389.0 702.0,386.0 703.0,383.0 704.0,383.0 705.0,383.4 706.0,384.0 707.0,381.7 708.0,381.5 709.0,380.8 710.0,382.5 711.0,380.1 712.0,380.5 713.0,382.6 714.0,383.0 715.0,380.6 716.0,380.5 717.0,379.9 718.0,381.0 719.0,379.9 720.0,379.5 721.0,381.2 722.0,380.5 723.0,378.2 724.0,378.5 725.0,379.1 726.0,380.0 727.0,379.7 728.0,379.0 729.0,381.2 730.0,381.0 731.0,381.0 732.0,379.0 733.0,379.4 734.0,377.5 735.0,377.5 736.0,379.0 737.0,377.7 738.0,377.0 739.0,377.3 740.0,378.5 741.0,378.7 742.0,376.5 743.0,378.5 744.0,377.5 745.0,375.6 746.0,376.0 747.0,375.5 748.0,377.0 749.0,375.4 750.0,375.5 751.0,374.9 752.0,376.0 753.0,375.2 754.0,374.5 755.0,375.3 756.0,375.5 757.0,374.0 758.0,374.0 758.7,372.2 759.5,373.3 760.2,373.3" stroke="#dc4040" stroke-width="1.2" fill="none" stroke-linejoin="round"/></svg>
<div class="a" style="left:543px;top:480.5px;width:240px;height:7.2px;background:#eceef1"></div><div class="a" style="left:549px;top:487.7px;width:227.6px;height:60px;border-radius:5px;background:#fff"></div><div class="t" style="left:557.70px;top:498.39px;font-size:9.7px;color:#2e2e2e;font-weight:400;">Zona di frequenza cardiaca</div>
<div class="t" style="left:557.70px;top:519.01px;font-size:9.2px;color:#2e2e2e;font-weight:400;">VO<span style="font-size:5.5px;vertical-align:-1px">2</span> max</div>
<div class="a" style="left:0;top:523.8px;width:1000px;height:40px;background:#fdfdfd"></div><svg width="1000" height="563"><rect x="606.0" y="532.2" width="8.4" height="8.4" rx="1" fill="#7a7a7a"/><circle cx="662.0" cy="536.5" r="5.3" fill="none" stroke="#7a7a7a" stroke-width="1.1"/><circle cx="662.0" cy="536.5" r="3" fill="#7a7a7a"/><path d="M719.4,532 L719.4,541 L710.6,536.5 Z" fill="#7a7a7a"/></svg>
</div><div class="edge"></div></div>
</body></html>
